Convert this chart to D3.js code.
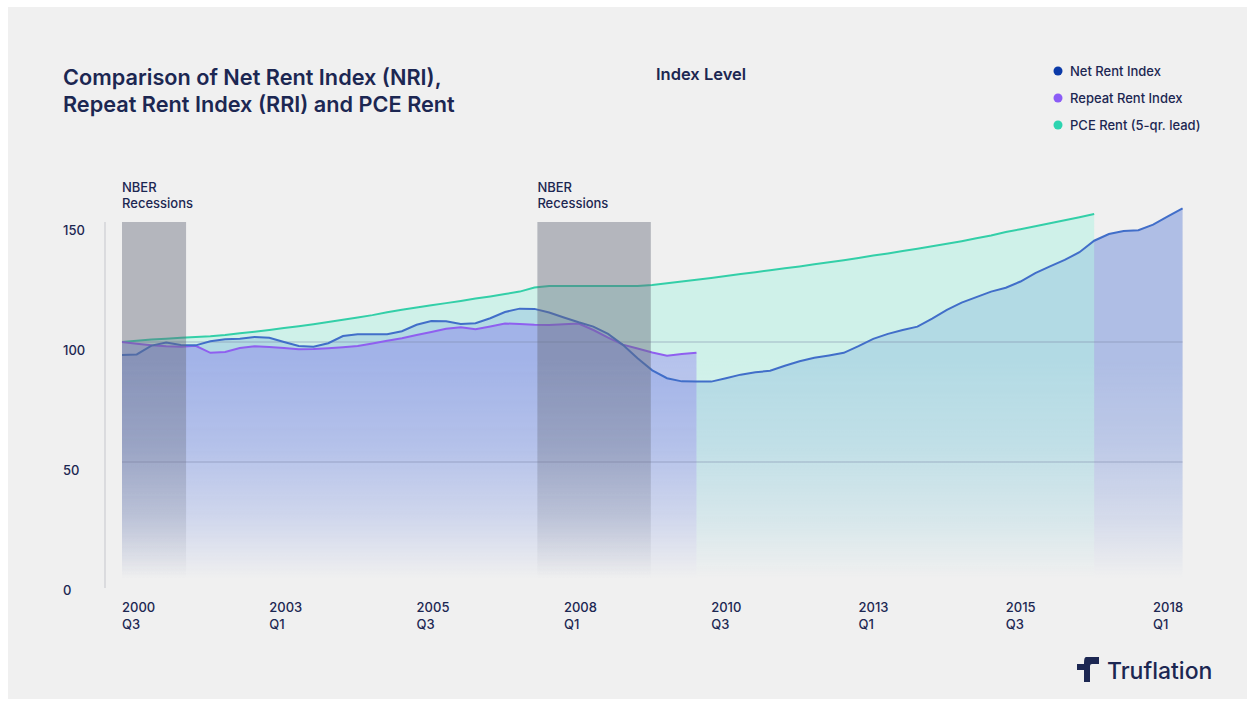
<!DOCTYPE html>
<html>
<head>
<meta charset="utf-8">
<script src="https://cdn.jsdelivr.net/npm/d3@7/dist/d3.min.js"></script>
<style>
  html, body { margin: 0; padding: 0; background: #ffffff; }
  svg { display: block; font-family: Inter, "Noto Sans", sans-serif; }
</style>
</head>
<body>
<svg id="chart" width="1255" height="706"></svg>
<script>
// ---- data (quarter index 0 = 2000 Q3) ----
const xTickQuarters = [0, 10, 20, 30, 40, 50, 60, 70];
const xTickYears = ["2000", "2003", "2005", "2008", "2010", "2013", "2015", "2018"];
const xTickQs = ["Q3", "Q1", "Q3", "Q1", "Q3", "Q1", "Q3", "Q1"];
const yTicks = [0, 50, 100, 150];
const gridValues = [50, 100];

const nriValues = [94.6, 94.8, 98.5, 99.8, 98.8, 98.6, 100.3, 101.1, 101.4, 102.1,
  101.8, 100, 98.3, 98, 99.5, 102.5, 103.2, 103.2, 103.2, 104.5,
  107.2, 108.75, 108.6, 107.5, 107.8, 109.9, 112.5, 113.9, 113.8, 112.3,
  110.2, 108.2, 106.4, 103.4, 98.8, 93.2, 88.2, 84.9, 83.6, 83.5,
  83.5, 84.9, 86.4, 87.4, 88, 90.1, 92.0, 93.4, 94.4, 95.5,
  98.3, 101.3, 103.4, 105, 106.4, 109.7, 113.4, 116.4, 118.7, 121,
  122.6, 125.2, 128.7, 131.5, 134.2, 137.4, 142.2, 145, 146.25, 146.6,
  148.9, 152.3, 155.7];

const rriValues = [100, 99.3, 98.6, 98.2, 98, 98.4, 95.5, 95.8, 97.5, 98.2,
  97.9, 97.5, 97, 97.1, 97.4, 97.8, 98.3, 99.4, 100.5, 101.6,
  102.9, 104.2, 105.5, 106.1, 105.3, 106.5, 107.7, 107.5, 107.2, 107.1,
  107.4, 107.7, 105, 101.8, 98.9, 97.3, 95.6, 94.3, 95, 95.5];

const pceValues = [100, 100.5, 101, 101.4, 101.8, 102.1, 102.4, 102.9, 103.6, 104.3,
  105, 105.8, 106.6, 107.4, 108.3, 109.3, 110.2, 111.2, 112.4, 113.4,
  114.4, 115.3, 116.2, 117.1, 118.1, 119, 120, 121, 122.7, 123.3,
  123.3, 123.3, 123.3, 123.3, 123.3, 123.3, 123.8, 124.5, 125.2, 125.9,
  126.7, 127.5, 128.3, 129.1, 129.9, 130.7, 131.5, 132.4, 133.2, 134.1,
  135, 136, 136.9, 137.9, 138.9, 139.9, 140.9, 142, 143.2, 144.4,
  145.8, 147, 148.2, 149.5, 150.7, 152, 153.3];

const recessionStarts = [0, 28.2];
const recessionEnds = [4.35, 35.9];

const legendLabels = ["Net Rent Index", "Repeat Rent Index", "PCE Rent (5-qr. lead)"];

// ---- drawing ----
const svg = d3.select("#chart");
const navy = "#1c2752";

svg.append("rect").attr("x", 8).attr("y", 7).attr("width", 1239).attr("height", 692).attr("fill", "#f0f0f0");

const x = d3.scaleLinear().domain([0, 72]).range([122, 122 + 72 * 14.73]);
const y = d3.scaleLinear().domain([0, 150]).range([582, 222]);

const defs = svg.append("defs");
const grad = defs.append("linearGradient").attr("id", "fadeGrad")
  .attr("gradientUnits", "userSpaceOnUse").attr("x1", 0).attr("y1", y(150)).attr("x2", 0).attr("y2", y(0));
grad.append("stop").attr("offset", 0).attr("stop-color", "#fff");
grad.append("stop").attr("offset", 0.38).attr("stop-color", "#fff");
grad.append("stop").attr("offset", 0.62).attr("stop-color", "#c4c4c4");
grad.append("stop").attr("offset", 0.82).attr("stop-color", "#6a6a6a");
grad.append("stop").attr("offset", 0.99).attr("stop-color", "#000");
const mask = defs.append("mask").attr("id", "fadeMask").attr("maskUnits", "userSpaceOnUse")
  .attr("x", 0).attr("y", 0).attr("width", 1255).attr("height", 706);
mask.append("rect").attr("x", 0).attr("y", 0).attr("width", 1255).attr("height", 706).attr("fill", "url(#fadeGrad)");

const fills = svg.append("g").attr("mask", "url(#fadeMask)");

const area = d3.area().x((d, i) => x(i)).y0(y(0)).y1(d => y(d));
const line = d3.line().x((d, i) => x(i)).y(d => y(d));

fills.append("path").datum(nriValues).attr("d", area).attr("fill", "#5b7ed6").attr("fill-opacity", 0.44);
fills.append("path").datum(pceValues).attr("d", area).attr("fill", "#b4f3e3").attr("fill-opacity", 0.55);
fills.append("path").datum(rriValues).attr("d", area).attr("fill", "#8a74ee").attr("fill-opacity", 0.38);

// gridlines
svg.append("g").selectAll("line").data(gridValues).join("line")
  .attr("x1", x(0)).attr("x2", x(72)).attr("y1", d => y(d)).attr("y2", d => y(d))
  .attr("stroke", "#7d86a8").attr("stroke-opacity", 0.55).attr("stroke-width", 1);

// lines
svg.append("path").datum(pceValues).attr("d", line).attr("fill", "none").attr("stroke", "#33cfa8").attr("stroke-width", 2);
svg.append("path").datum(rriValues).attr("d", line).attr("fill", "none").attr("stroke", "#8f5ff0").attr("stroke-width", 2);
svg.append("path").datum(nriValues).attr("d", line).attr("fill", "none").attr("stroke", "#416ec9").attr("stroke-width", 2);

// recessions
const rec = svg.append("g").attr("mask", "url(#fadeMask)");
rec.selectAll("rect").data(recessionStarts).join("rect")
  .attr("x", d => x(d)).attr("width", (d, i) => x(recessionEnds[i]) - x(d))
  .attr("y", y(150)).attr("height", y(0) - y(150))
  .attr("fill", "#666a7c").attr("fill-opacity", 0.44);

const recLabels = svg.append("g").attr("fill", navy).attr("font-size", 13).attr("font-weight", 500);
recessionStarts.forEach(s => {
  const t = recLabels.append("text").attr("x", x(s)).attr("y", 192);
  t.append("tspan").attr("x", x(s)).attr("y", 192).text("NBER");
  t.append("tspan").attr("x", x(s)).attr("y", 208).text("Recessions");
});

// y axis line
svg.append("line").attr("x1", 105).attr("x2", 105).attr("y1", y(150)).attr("y2", 588)
  .attr("stroke", "#c5c6cc").attr("stroke-width", 1);

// y tick labels
svg.append("g").selectAll("text").data(yTicks).join("text")
  .attr("x", 63).attr("y", d => y(d) + 13).attr("fill", navy).attr("font-size", 13).attr("font-weight", 500)
  .text(d => d);

// x tick labels
const xl = svg.append("g").attr("fill", navy).attr("font-size", 13).attr("font-weight", 500);
xTickQuarters.forEach((q, i) => {
  xl.append("text").attr("x", x(q)).attr("y", 612).text(xTickYears[i]);
  xl.append("text").attr("x", x(q)).attr("y", 629).text(xTickQs[i]);
});

// title
const title = svg.append("text").attr("x", 63).attr("fill", navy).attr("font-size", 21.7).attr("font-weight", 600);
title.append("tspan").attr("x", 63).attr("y", 85).text("Comparison of Net Rent Index (NRI),");
title.append("tspan").attr("x", 63).attr("y", 112).text("Repeat Rent Index (RRI) and PCE Rent");

svg.append("text").attr("x", 656).attr("y", 80).attr("fill", navy).attr("font-size", 16.5).attr("font-weight", 600).text("Index Level");

// legend
const legendColors = ["#0b3aa8", "#8b5cf6", "#2dd4b0"];
const lg = svg.append("g");
legendLabels.forEach((l, i) => {
  lg.append("circle").attr("cx", 1058).attr("cy", 71 + i * 27).attr("r", 4.5).attr("fill", legendColors[i]);
  lg.append("text").attr("x", 1070).attr("y", 76 + i * 27).attr("fill", navy).attr("font-size", 13).attr("font-weight", 500).text(l);
});

// logo
const logo = svg.append("g").attr("fill", navy);
logo.append("path").attr("d", "M1086,657 L1099,657 L1099,664 L1092,664 Q1090,664 1090,666 L1090,682 L1084,682 L1084,663 Q1084,657 1086,657 Z");
logo.append("path").attr("d", "M1077,664 L1084,664 L1084,670 L1077,670 Z");
svg.append("text").attr("x", 1107).attr("y", 679).attr("fill", navy).attr("font-size", 23).attr("font-weight", 500).text("Truflation");
</script>
</body>
</html>
